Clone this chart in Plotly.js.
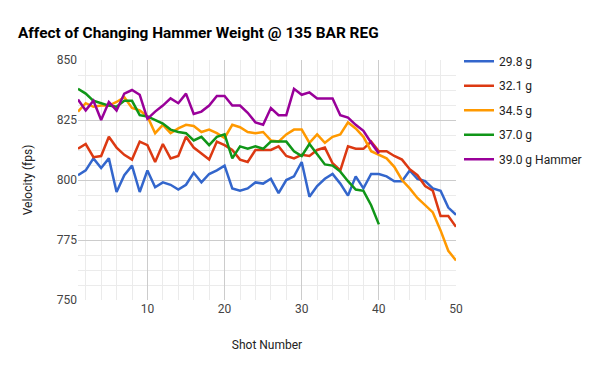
<!DOCTYPE html>
<html>
<head>
<meta charset="utf-8">
<script src="https://cdn.plot.ly/plotly-3.0.1.min.js"></script>
<style>html,body{margin:0;padding:0;background:#fff;}#chart{width:600px;height:371px;}</style>
</head>
<body>
<div id="chart"></div>
<script>
const shots = Array.from({length: 50}, (_, i) => i + 1);
const seriesNames = ["29.8 g", "32.1 g", "34.5 g", "37.0 g", "39.0 g Hammer"];
const seriesColors = ["#3366cc", "#dc3912", "#ff9900", "#109618", "#990099"];

const w298 = [802, 804, 809, 805, 809, 795, 802, 806, 795, 804,
              797, 799, 798, 796, 798, 803, 799, 802.5, 804, 806,
              796.5, 795.5, 796.5, 799, 798.5, 800.5, 794.5, 800, 801.5, 807.5,
              793, 797.5, 800.5, 802.5, 798.5, 793.5, 801.5, 796.5, 802.5, 802.5,
              801.5, 799.5, 799.5, 804, 800.5, 799.5, 796.5, 795.5, 788.5, 785.5];
const w321 = [813, 815, 809.5, 810, 818, 813.5, 810.5, 808.5, 816, 814.5,
              807.5, 815, 809, 810, 818, 813.5, 811, 808.5, 816, 814.5,
              812.5, 808.5, 807.5, 812.5, 812.5, 812.5, 814, 810, 809, 810.5,
              810, 812.5, 813.5, 807, 804, 814, 813, 813, 816, 812,
              812, 810, 808.5, 804.5, 802, 797.5, 795.5, 785, 785, 780.5];
const w345 = [828.5, 832, 830.5, 831, 831, 832.5, 834.5, 830, 829, 826.5,
              819.5, 823, 819.5, 821.5, 823, 822.5, 820, 821, 819.5, 817.5,
              823, 822, 820, 819.5, 820, 816.5, 816, 819, 821, 821,
              815.5, 819, 815.5, 818, 819, 824, 821.5, 818, 812, 810.5,
              809, 805.5, 800, 796.5, 792.5, 789.5, 786.5, 779, 770.5, 766.5];
const w370 = [838, 836, 833, 832, 831, 830.5, 833, 833, 827, 826.5,
              825, 823.5, 821, 820, 819.5, 816.5, 818, 814.5, 818, 819,
              809, 814, 813, 814, 813, 816, 816, 816, 812, 810,
              815, 810.5, 806.5, 806, 803.5, 799.5, 796, 795.5, 789.5, 781.5];
const w390 = [833.5, 829, 833, 825, 832.5, 829, 836, 837.5, 835.5, 825.5,
              828.5, 831, 834, 832, 836, 827.5, 828.5, 831, 835, 835,
              831, 831, 828, 824, 823, 830, 827, 827, 838, 835.5,
              836.5, 834, 834, 834, 827, 826, 823, 820.5, 815.5, 811];
const seriesValues = [w298, w321, w345, w370, w390];
const xTicks = [10, 20, 30, 40, 50];
const yTicks = [750, 775, 800, 825, 850];

const traces = seriesValues.map((vals, i) => ({
  type: "scatter",
  mode: "lines",
  name: seriesNames[i],
  legendgroup: "g" + i,
  x: shots.slice(0, vals.length),
  y: vals,
  line: {color: seriesColors[i], width: 2.5},
  hoverinfo: "x+y"
}));

const fontFam = "Roboto, Arial, sans-serif";
const layout = {
  width: 600, height: 371,
  margin: {l: 78, r: 144, t: 60, b: 71},
  paper_bgcolor: "#fff", plot_bgcolor: "#fff",
  font: {family: fontFam, size: 12, color: "#444"},
  title: {text: "<b>Affect of Changing Hammer Weight @ 135 BAR REG</b>",
          font: {family: fontFam, size: 15.4, color: "#000"},
          x: 18 / 600, xref: "container", xanchor: "left",
          y: 1 - 33 / 371, yref: "container", yanchor: "middle"},
  xaxis: {
    range: [1, 50], tickmode: "array", tickvals: xTicks, ticktext: xTicks.map(String),
    showgrid: true, gridcolor: "#cccccc", gridwidth: 1,
    minor: {dtick: 2, tick0: 0, showgrid: true, gridcolor: "#ebebeb", gridwidth: 1},
    zeroline: false, showline: false, ticks: "",
    tickfont: {family: fontFam, size: 12, color: "#444"},
    title: {text: "Shot Number", font: {family: fontFam, size: 12, color: "#222"}, standoff: 25}
  },
  yaxis: {
    range: [750, 850], tickmode: "array", tickvals: yTicks, ticktext: yTicks.map(String),
    showgrid: true, gridcolor: "#cccccc", gridwidth: 1,
    minor: {dtick: 6.25, tick0: 750, showgrid: true, gridcolor: "#ebebeb", gridwidth: 1},
    zeroline: false, showline: false, ticks: "",
    tickfont: {family: fontFam, size: 12, color: "#444"},
    title: {text: "Velocity (fps)", font: {family: fontFam, size: 12, color: "#222"}, standoff: 21}
  },
  showlegend: true,
  legend: {x: 1.0 + 3 / 378, xanchor: "left", xref: "paper", y: 1.055, yanchor: "top",
           font: {family: fontFam, size: 12, color: "#222"},
           itemwidth: 30, tracegroupgap: 5.5, bgcolor: "rgba(0,0,0,0)"}
};

Plotly.newPlot("chart", traces, layout, {displayModeBar: false, staticPlot: true});
</script>
</body>
</html>
